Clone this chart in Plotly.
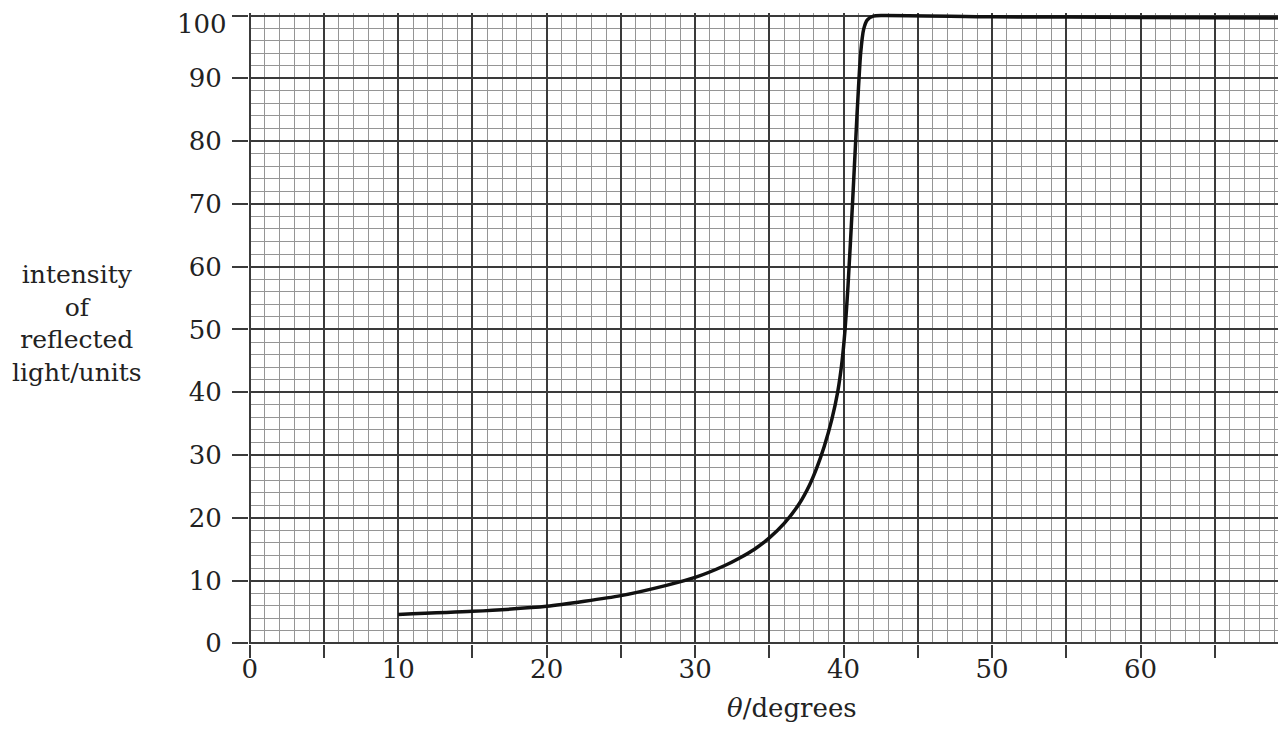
import plotly.graph_objects as go

# Data
theta = [10, 15, 20, 25, 28, 30, 32, 33, 34, 35, 36, 37, 37.7, 38.2, 38.7, 39.2,
         39.6, 39.9, 40.1, 40.3, 40.6, 40.9, 41.15, 41.35, 41.6, 42.0, 42.6,
         50, 60, 69.8]
intensity = [4.6, 5.1, 5.9, 7.6, 9.2, 10.5, 12.4, 13.6, 15.0, 16.8, 19.1, 22.2, 25.2,
             28.0, 31.4, 35.6, 40.0, 45.0, 50.0, 57.0, 70.0, 84.0, 94.0, 97.8,
             99.3, 99.9, 100.0, 99.8, 99.7, 99.6]

x_tick_vals = [0, 5, 10, 15, 20, 25, 30, 35, 40, 45, 50, 55, 60, 65]
x_tick_text = ["0", "", "10", "", "20", "", "30", "", "40", "", "50", "", "60", ""]
y_tick_vals = [0, 10, 20, 30, 40, 50, 60, 70, 80, 90, 100]
y_tick_text = ["0", "10", "20", "30", "40", "50", "60", "70", "80", "90", "100"]

FONT = "DejaVu Serif"
TXT = "#222222"
MAJOR = "#3a3a3a"
MINOR = "#959595"

fig = go.Figure()
fig.add_trace(go.Scatter(
    x=theta, y=intensity, mode="lines",
    line=dict(color="#111111", width=3.5, shape="spline", smoothing=0.6),
    showlegend=False, hoverinfo="skip",
))

# the top label sits at the very top edge of the figure; draw it as an annotation
axis_text = y_tick_text[:-1] + [""]
top_label = dict(text=y_tick_text[-1], xref="paper", yref="y", x=0, y=y_tick_vals[-1],
                 xanchor="right", yanchor="middle", xshift=-21, yshift=-8,
                 borderpad=0, showarrow=False, font=dict(family=FONT, size=26, color=TXT))

# the page body has an 8px default margin, so the figure is 8px smaller
fig.update_layout(
    width=1278, height=725,
    margin=dict(l=241, r=0, t=5, b=89),
    paper_bgcolor="white", plot_bgcolor="white",
    font=dict(family=FONT, color=TXT, size=26),
    xaxis=dict(
        range=[-0.05, 69.8],
        tickmode="array", tickvals=x_tick_vals, ticktext=x_tick_text,
        ticks="outside", ticklen=13, tickwidth=1.5, tickcolor=MAJOR,
        showgrid=True, gridcolor=MAJOR, gridwidth=1.5,
        zeroline=True, zerolinecolor=MAJOR, zerolinewidth=1.5,
        showline=False,
        tickfont=dict(family=FONT, size=26, color=TXT),
        ticklabelstandoff=-11,
        minor=dict(dtick=1, showgrid=True, gridcolor=MINOR, gridwidth=1, ticks=""),
    ),
    yaxis=dict(
        range=[-0.1, 100.4],
        tickmode="array", tickvals=y_tick_vals, ticktext=axis_text,
        ticks="outside", ticklen=16, tickwidth=1.5, tickcolor=MAJOR,
        showgrid=True, gridcolor=MAJOR, gridwidth=1.5,
        zeroline=True, zerolinecolor=MAJOR, zerolinewidth=1.5,
        showline=False,
        tickfont=dict(family=FONT, size=26, color=TXT),
        ticklabelstandoff=5,
        minor=dict(dtick=2, showgrid=True, gridcolor=MINOR, gridwidth=1, ticks=""),
    ),
    annotations=[
        top_label,
        dict(text="<i>θ</i>/degrees", xref="x", yref="paper", x=36.5, y=-0.102,
             xanchor="center", yanchor="middle", showarrow=False,
             font=dict(family=FONT, size=26, color=TXT)),
        dict(text="intensity<br>of<br>reflected<br>light/units", xref="paper", yref="paper",
             x=(77 - 249) / 1037, y=(644 - 323) / 631,
             xanchor="center", yanchor="middle", align="center", showarrow=False,
             font=dict(family=FONT, size=25, color=TXT)),
    ],
)

fig.write_html("out.html")
